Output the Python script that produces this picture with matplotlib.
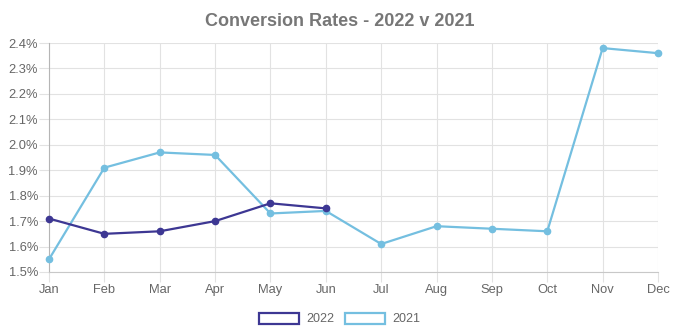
import matplotlib
matplotlib.use('Agg')
from matplotlib import pyplot as plt
from matplotlib.patches import Rectangle
from matplotlib.ticker import FuncFormatter

# data
months = ['Jan', 'Feb', 'Mar', 'Apr', 'May', 'Jun',
          'Jul', 'Aug', 'Sep', 'Oct', 'Nov', 'Dec']
rates2022 = [1.71, 1.65, 1.66, 1.70, 1.77, 1.75]
rates2021 = [1.55, 1.91, 1.97, 1.96, 1.73, 1.74,
             1.61, 1.68, 1.67, 1.66, 2.38, 2.36]
yticks = [1.5, 1.6, 1.7, 1.8, 1.9, 2.0, 2.1, 2.2, 2.3, 2.4]

col2022 = '#3d3793'
col2021 = '#74bfe0'
gridCol = '#e2e2e2'
textCol = '#666666'

plt.rcParams['font.family'] = ['Liberation Sans', 'DejaVu Sans']

fig = plt.figure(figsize=(6.79, 3.34), dpi=100)
ax = fig.add_axes([49/679, 1-272/334, 609/679, 229/334])

x2022 = list(range(len(rates2022)))
x2021 = list(range(len(rates2021)))

ax.plot(x2021, rates2021, color=col2021, lw=1.6, marker='o', ms=4.5,
        zorder=3, clip_on=False)
ax.plot(x2022, rates2022, color=col2022, lw=1.6, marker='o', ms=4.5,
        zorder=4, clip_on=False)

ax.set_xlim(0, 11)
ax.set_ylim(1.5, 2.4)
ax.set_xticks(x2021)
ax.set_xticklabels(months)
ax.set_yticks(yticks)
ax.yaxis.set_major_formatter(FuncFormatter(lambda v, p: f'{v:.1f}%'))

ax.grid(True, color=gridCol, lw=0.8)
ax.tick_params(axis='both', colors=gridCol, length=7.5, width=0.8,
               labelcolor=textCol, labelsize=9.3)
ax.tick_params(axis='y', pad=0.5)
ax.tick_params(axis='x', pad=1.0)
for s in ['top', 'right']:
    ax.spines[s].set_visible(False)
ax.spines['left'].set_color('#b5b5b5')
ax.spines['bottom'].set_color('#c8c8c8')
ax.set_axisbelow(True)

fig.text(0.5, 1-21/334, 'Conversion Rates - 2022 v 2021', ha='center',
         va='center', fontsize=13, fontweight='bold', color='#777777')

# legend with hollow boxes
handles = [Rectangle((0, 0), 1, 1, facecolor='white', edgecolor=col2022, lw=1.6),
           Rectangle((0, 0), 1, 1, facecolor='white', edgecolor=col2021, lw=1.6)]
fig.legend(handles, ['2022', '2021'], loc='center', ncol=2,
           bbox_to_anchor=(0.5, 1-319/334), frameon=False, fontsize=9,
           labelcolor=textCol, handlelength=3.2, handleheight=1.0,
           handletextpad=0.6, columnspacing=0.8)

plt.savefig('out.png', dpi=100)
